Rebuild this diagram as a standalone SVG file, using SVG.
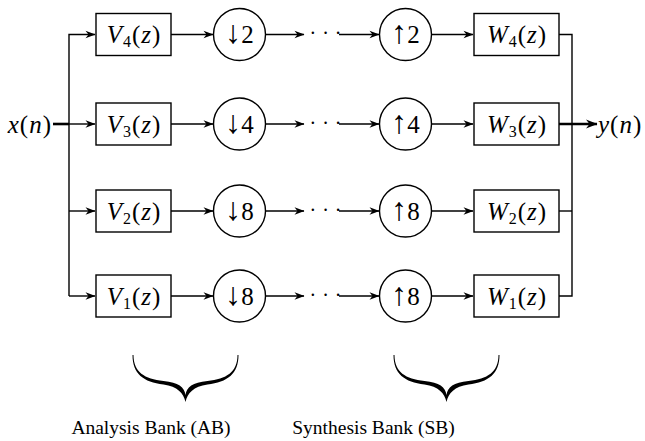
<svg xmlns="http://www.w3.org/2000/svg" width="645" height="441" viewBox="0 0 645 441">
<style>
.box{fill:#fff;stroke:#000;stroke-width:1.4}
.ln{fill:none;stroke:#000;stroke-width:1.4}
.thick{fill:none;stroke:#000;stroke-width:2.6}
.t{font-size:25px;fill:#000}
.m{letter-spacing:1px}
.i{font-style:italic}
.sub{font-size:16px}
.ar{font-size:32px;font-weight:300}
.lab{font-size:19.5px;fill:#000}
.dots{font-size:20px;letter-spacing:6px;fill:#000}
</style>
<defs>
<marker id="ah" viewBox="-10 -5 11 10" refX="0" refY="0" markerWidth="11" markerHeight="10" markerUnits="userSpaceOnUse" orient="auto">
<path d="M0.5,0 L-9.5,-3.8 L-6.5,0 L-9.5,3.8 Z" fill="#000"/>
</marker>
<marker id="ahb" viewBox="-12 -6 13 12" refX="0" refY="0" markerWidth="13" markerHeight="12" markerUnits="userSpaceOnUse" orient="auto">
<path d="M0.5,0 L-11,-4.6 L-7.5,0 L-11,4.6 Z" fill="#000"/>
</marker>
<path id="brace" d="M-53,0 C-53,19 -42,27 -22,29.5 C-8,31.5 -2,38 0,47 C2,38 8,31.5 22,29.5 C42,27 53,19 53,0 L52,0 C52,17 41,24 22,26 C7,27.5 1,32 0,40 C-1,32 -7,27.5 -22,26 C-41,24 -52,17 -52,0 Z" fill="#000"/>
</defs>

<g font-family="Liberation Serif, Tinos, Times New Roman, serif">
<g id="connectors">
<path class="thick" d="M53,124 H69"/>
<path class="ln" d="M69,296 V34.5 H95" marker-end="url(#ah)"/>
<path class="ln" d="M69,124 H95" marker-end="url(#ah)"/>
<path class="ln" d="M69,211 H95" marker-end="url(#ah)"/>
<path class="ln" d="M69,296 H95" marker-end="url(#ah)"/>
<path class="ln" d="M171,34.5 H213" marker-end="url(#ah)"/>
<path class="ln" d="M171,124 H213" marker-end="url(#ah)"/>
<path class="ln" d="M171,211 H213" marker-end="url(#ah)"/>
<path class="ln" d="M171,296 H213" marker-end="url(#ah)"/>
<path class="ln" d="M266,34.5 H304" marker-end="url(#ah)"/>
<path class="ln" d="M266,124 H304" marker-end="url(#ah)"/>
<path class="ln" d="M266,211 H304" marker-end="url(#ah)"/>
<path class="ln" d="M266,296 H304" marker-end="url(#ah)"/>
<path class="ln" d="M339,34.5 H379" marker-end="url(#ah)"/>
<path class="ln" d="M339,124 H379" marker-end="url(#ah)"/>
<path class="ln" d="M339,211 H379" marker-end="url(#ah)"/>
<path class="ln" d="M339,296 H379" marker-end="url(#ah)"/>
<path class="ln" d="M432,34.5 H473" marker-end="url(#ah)"/>
<path class="ln" d="M432,124 H473" marker-end="url(#ah)"/>
<path class="ln" d="M432,211 H473" marker-end="url(#ah)"/>
<path class="ln" d="M432,296 H473" marker-end="url(#ah)"/>
<path class="ln" d="M559,34.5 H572 V296 H559"/>
<path class="ln" d="M559,211 H572"/>
<path class="thick" d="M559,124 H597" marker-end="url(#ahb)"/>
<text class="dots" x="309.5" y="40">···</text>
<text class="dots" x="309.5" y="129.5">···</text>
<text class="dots" x="309.5" y="216.5">···</text>
<text class="dots" x="309.5" y="301.5">···</text>
</g>

<g id="input"><text class="t m" x="52" y="132.5" text-anchor="end"><tspan class="i">x</tspan>(<tspan class="i">n</tspan>)</text></g>
<g id="output"><text class="t m" x="598" y="132.5"><tspan class="i">y</tspan>(<tspan class="i">n</tspan>)</text></g>

<g id="V4"><rect class="box" x="96" y="13.5" width="75" height="42"/><text class="t m" x="134" y="43" text-anchor="middle"><tspan class="i">V</tspan><tspan class="sub" dy="4">4</tspan><tspan dy="-4">(</tspan><tspan class="i">z</tspan>)</text></g>
<g id="V3"><rect class="box" x="96" y="103" width="75" height="42"/><text class="t m" x="134" y="132.5" text-anchor="middle"><tspan class="i">V</tspan><tspan class="sub" dy="4">3</tspan><tspan dy="-4">(</tspan><tspan class="i">z</tspan>)</text></g>
<g id="V2"><rect class="box" x="96" y="190" width="75" height="42"/><text class="t m" x="134" y="219.5" text-anchor="middle"><tspan class="i">V</tspan><tspan class="sub" dy="4">2</tspan><tspan dy="-4">(</tspan><tspan class="i">z</tspan>)</text></g>
<g id="V1"><rect class="box" x="96" y="275" width="75" height="42"/><text class="t m" x="134" y="304.5" text-anchor="middle"><tspan class="i">V</tspan><tspan class="sub" dy="4">1</tspan><tspan dy="-4">(</tspan><tspan class="i">z</tspan>)</text></g>

<g id="D2"><circle class="box" cx="239.5" cy="34.5" r="26"/><text class="t" x="239.5" y="43" text-anchor="middle"><tspan class="ar">↓</tspan>2</text></g>
<g id="D4"><circle class="box" cx="239.5" cy="124" r="26"/><text class="t" x="239.5" y="132.5" text-anchor="middle"><tspan class="ar">↓</tspan>4</text></g>
<g id="D8a"><circle class="box" cx="239.5" cy="211" r="26"/><text class="t" x="239.5" y="219.5" text-anchor="middle"><tspan class="ar">↓</tspan>8</text></g>
<g id="D8b"><circle class="box" cx="239.5" cy="296" r="26"/><text class="t" x="239.5" y="304.5" text-anchor="middle"><tspan class="ar">↓</tspan>8</text></g>

<g id="U2"><circle class="box" cx="405.5" cy="34.5" r="26"/><text class="t" x="405.5" y="43" text-anchor="middle"><tspan class="ar">↑</tspan>2</text></g>
<g id="U4"><circle class="box" cx="405.5" cy="124" r="26"/><text class="t" x="405.5" y="132.5" text-anchor="middle"><tspan class="ar">↑</tspan>4</text></g>
<g id="U8a"><circle class="box" cx="405.5" cy="211" r="26"/><text class="t" x="405.5" y="219.5" text-anchor="middle"><tspan class="ar">↑</tspan>8</text></g>
<g id="U8b"><circle class="box" cx="405.5" cy="296" r="26"/><text class="t" x="405.5" y="304.5" text-anchor="middle"><tspan class="ar">↑</tspan>8</text></g>

<g id="W4"><rect class="box" x="474" y="13.5" width="85" height="42"/><text class="t m" x="517" y="43" text-anchor="middle"><tspan class="i">W</tspan><tspan class="sub" dy="4">4</tspan><tspan dy="-4">(</tspan><tspan class="i">z</tspan>)</text></g>
<g id="W3"><rect class="box" x="474" y="103" width="85" height="42"/><text class="t m" x="517" y="132.5" text-anchor="middle"><tspan class="i">W</tspan><tspan class="sub" dy="4">3</tspan><tspan dy="-4">(</tspan><tspan class="i">z</tspan>)</text></g>
<g id="W2"><rect class="box" x="474" y="190" width="85" height="42"/><text class="t m" x="517" y="219.5" text-anchor="middle"><tspan class="i">W</tspan><tspan class="sub" dy="4">2</tspan><tspan dy="-4">(</tspan><tspan class="i">z</tspan>)</text></g>
<g id="W1"><rect class="box" x="474" y="275" width="85" height="42"/><text class="t m" x="517" y="304.5" text-anchor="middle"><tspan class="i">W</tspan><tspan class="sub" dy="4">1</tspan><tspan dy="-4">(</tspan><tspan class="i">z</tspan>)</text></g>

<g id="analysis-bank"><use href="#brace" x="185.5" y="355"/><text class="lab" x="151" y="434" text-anchor="middle">Analysis Bank (AB)</text></g>
<g id="synthesis-bank"><use href="#brace" x="446.5" y="355"/><text class="lab" x="373.5" y="434" text-anchor="middle">Synthesis Bank (SB)</text></g>
</g>
</svg>
